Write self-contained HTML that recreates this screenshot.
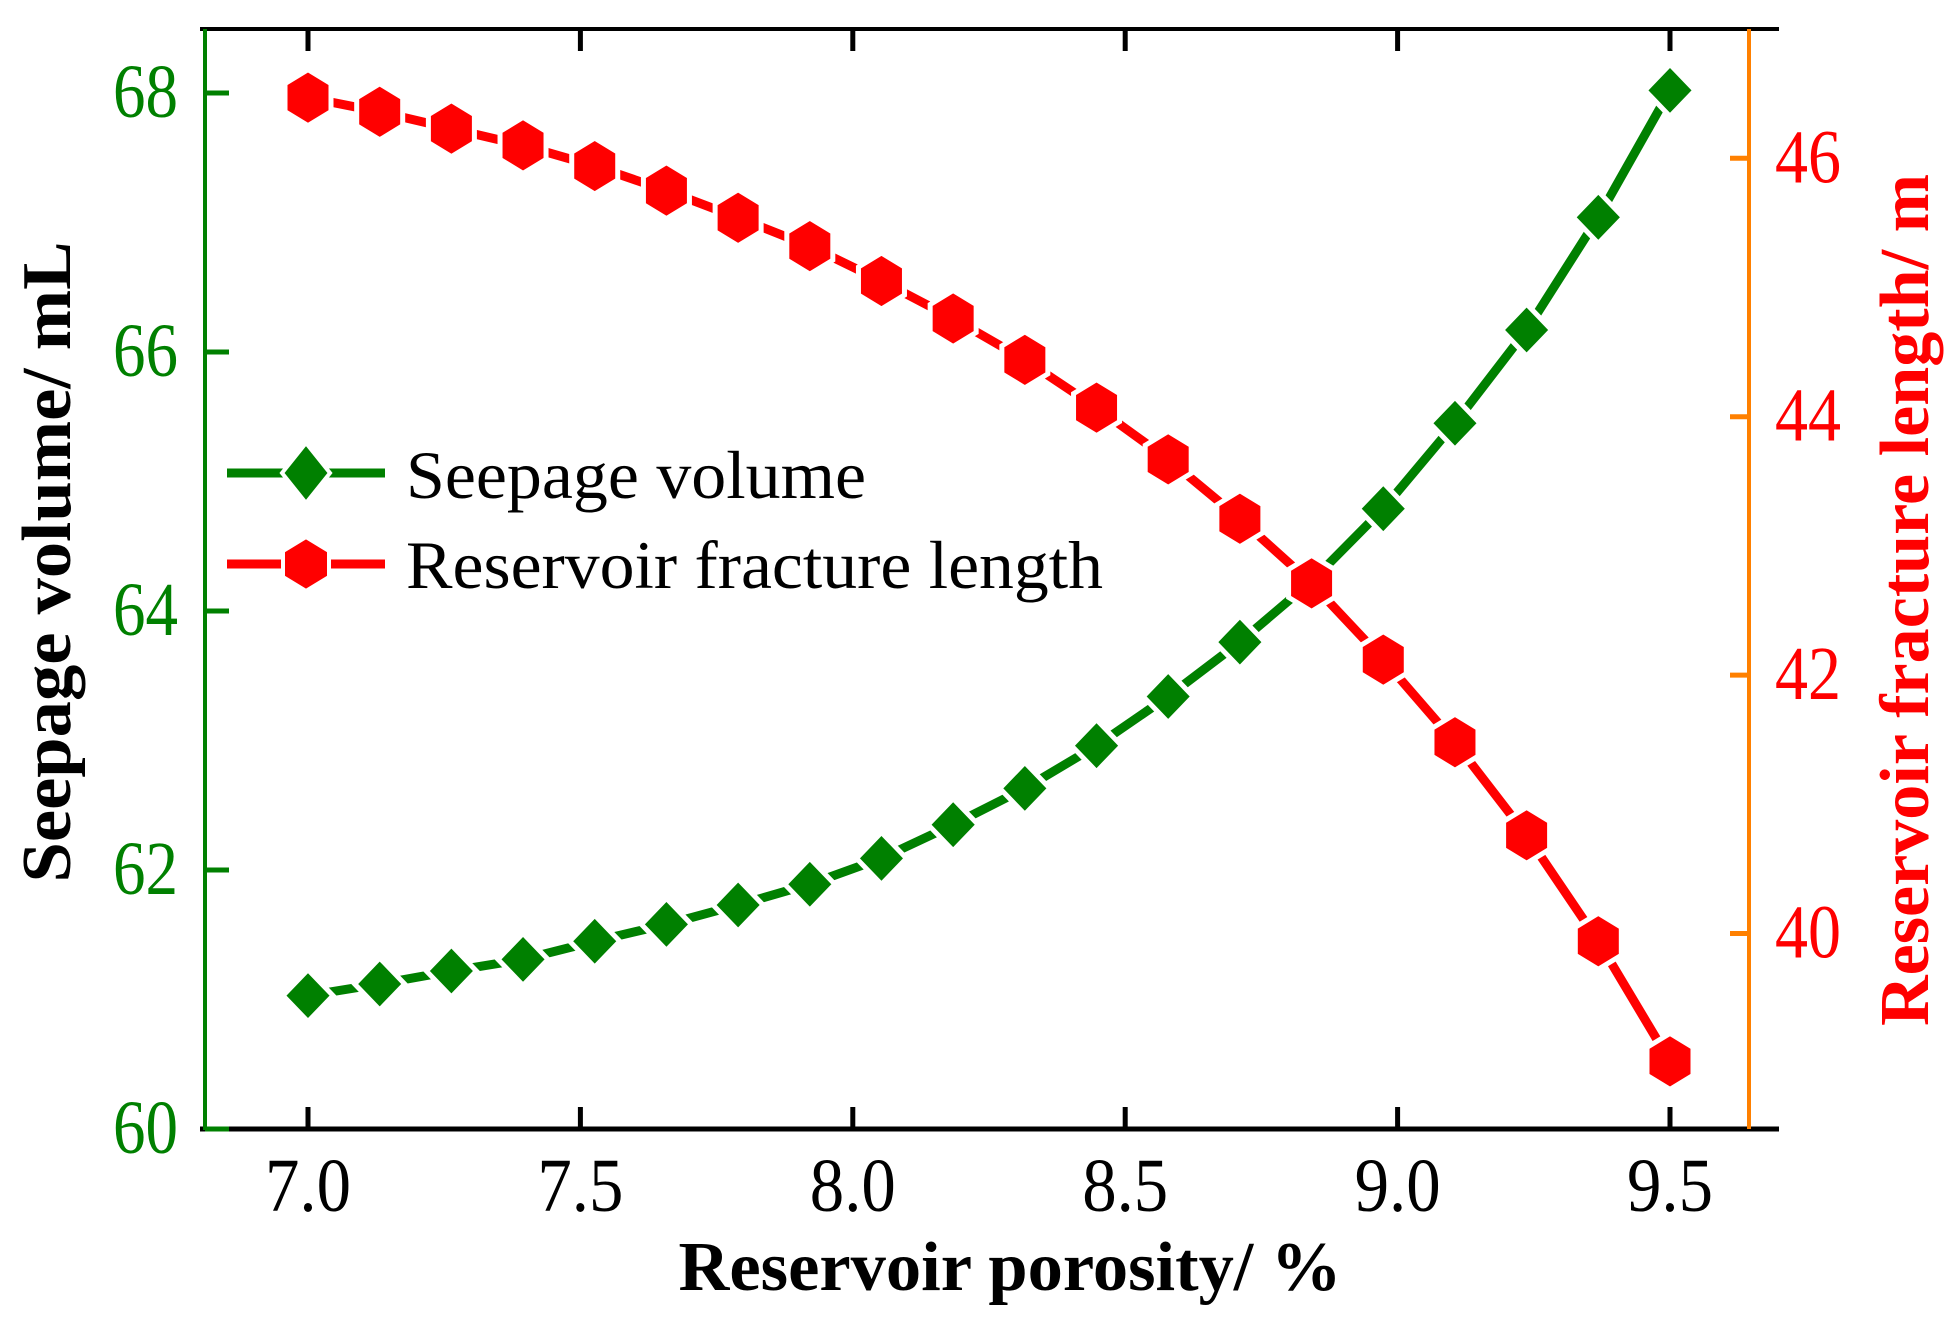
<!DOCTYPE html>
<html><head><meta charset="utf-8"><style>
html,body{margin:0;padding:0;background:#fff;}
svg{display:block;font-family:"Liberation Serif",serif;}
</style></head><body>
<svg id="chart" width="1950" height="1326" viewBox="0 0 1950 1326">
<g id="axes"></g>
<g id="series"></g>
<text x="1010" y="1290" text-anchor="middle" font-weight="bold" font-size="70" textLength="663" lengthAdjust="spacingAndGlyphs">Reservoir porosity/ %</text>
<text transform="translate(70,562) rotate(-90)" text-anchor="middle" font-weight="bold" font-size="70" textLength="641" lengthAdjust="spacingAndGlyphs">Seepage volume/ mL</text>
<text transform="translate(1928,600) rotate(-90)" text-anchor="middle" font-weight="bold" font-size="70" fill="#ff0000" textLength="852" lengthAdjust="spacingAndGlyphs">Reservoir fracture length/ m</text>
<g>
<g>
<line x1="227" y1="473" x2="385" y2="473" stroke="#008000" stroke-width="9"/>
<polygon points="306,443 330,473 306,503 282,473" fill="#008000" stroke="#fff" stroke-width="4"/>
<text x="406" y="498" font-size="68" textLength="460" lengthAdjust="spacingAndGlyphs">Seepage volume</text>
</g>
<g>
<line x1="227" y1="564" x2="385" y2="564" stroke="#ff0000" stroke-width="9"/>
<polygon points="306,537 329,551 329,577 306,591 283,577 283,551" fill="#ff0000" stroke="#fff" stroke-width="4"/>
<text x="406" y="588" font-size="68" textLength="697" lengthAdjust="spacingAndGlyphs">Reservoir fracture length</text>
</g>
</g>
</svg>
<script>
const porosity=[7.0,7.1316,7.2632,7.3947,7.5263,7.6579,7.7895,7.9211,8.0526,8.1842,8.3158,8.4474,8.5789,8.7105,8.8421,8.9737,9.1053,9.2368,9.3684,9.5];
const seepage=[61.03,61.12,61.22,61.31,61.45,61.58,61.73,61.89,62.09,62.35,62.63,62.96,63.34,63.76,64.23,64.79,65.45,66.17,67.04,68.02];
const fracture=[46.47,46.36,46.23,46.10,45.94,45.75,45.54,45.32,45.05,44.76,44.44,44.07,43.67,43.21,42.71,42.12,41.48,40.76,39.94,39.01];
const xTicks=[7.0,7.5,8.0,8.5,9.0,9.5];
const xTickLabels=["7.0","7.5","8.0","8.5","9.0","9.5"];
const leftTicks=[60,62,64,66,68];
const rightTicks=[40,42,44,46];

const L=205,R=1749,T=29,B=1129;
const X=v=>308+(v-7.0)*544.8;
const YL=v=>B-(v-60)*129.5;
const YR=v=>158.3-(v-46)*129.2;
const NS="http://www.w3.org/2000/svg";
function mk(tag,attrs,parent){const e=document.createElementNS(NS,tag);for(const k in attrs)e.setAttribute(k,attrs[k]);parent.appendChild(e);return e;}
const ax=document.getElementById('axes'),se=document.getElementById('series');

let e;
e=mk('line',{x1:200,y1:B,x2:1779,y2:B,stroke:'#000','stroke-width':5},ax);


e=mk('line',{x1:200,y1:T,x2:1779,y2:T,stroke:'#000','stroke-width':4},ax);


e=mk('line',{x1:L,y1:T,x2:L,y2:B+1,stroke:'#008000','stroke-width':4},ax);


e=mk('line',{x1:R,y1:T,x2:R,y2:B,stroke:'#ff8000','stroke-width':4},ax);



xTicks.forEach((v,i)=>{
  e=mk('line',{x1:X(v),y1:B,x2:X(v),y2:B-22,stroke:'#000','stroke-width':5},ax);
  
  
  e=mk('line',{x1:X(v),y1:T,x2:X(v),y2:T+22,stroke:'#000','stroke-width':5},ax);
  
  
  e=mk('text',{x:X(v),y:1211,'text-anchor':'middle','font-size':76,textLength:86,lengthAdjust:'spacingAndGlyphs'},ax);
  e.textContent=xTickLabels[i];
  
  
});
leftTicks.forEach(v=>{
  e=mk('line',{x1:L,y1:YL(v),x2:L+24,y2:YL(v),stroke:'#008000','stroke-width':5},ax);
  
  
  e=mk('text',{x:113,y:YL(v)+24,'text-anchor':'start','font-size':76,fill:'#008000',textLength:65,lengthAdjust:'spacingAndGlyphs'},ax);
  e.textContent=String(v);
  
  
});
rightTicks.forEach(v=>{
  e=mk('line',{x1:R,y1:YR(v),x2:R-19,y2:YR(v),stroke:'#ff8000','stroke-width':5},ax);
  
  
  e=mk('text',{x:1775,y:YR(v)+24,'text-anchor':'start','font-size':76,fill:'#ff0000',textLength:66,lengthAdjust:'spacingAndGlyphs'},ax);
  e.textContent=String(v);
  
  
});

const gPts=porosity.map((p,i)=>X(p)+','+YL(seepage[i])).join(' ');
e=mk('polyline',{points:gPts,fill:'none',stroke:'#008000','stroke-width':9},se);


const rPts=porosity.map((p,i)=>X(p)+','+YR(fracture[i])).join(' ');
e=mk('polyline',{points:rPts,fill:'none',stroke:'#ff0000','stroke-width':9},se);



porosity.forEach((p,i)=>{
  const x=X(p),y=YL(seepage[i]);
  e=mk('polygon',{points:`${x},${y-26} ${x+25},${y} ${x},${y+26} ${x-25},${y}`,fill:'#008000',stroke:'#fff','stroke-width':5},se);
  
  
});
porosity.forEach((p,i)=>{
  const x=X(p),y=YR(fracture[i]);
  e=mk('polygon',{points:`${x},${y-28} ${x+23},${y-14} ${x+23},${y+14} ${x},${y+28} ${x-23},${y+14} ${x-23},${y-14}`,fill:'#ff0000',stroke:'#fff','stroke-width':5},se);
  
  
});
</script>
</body></html>
